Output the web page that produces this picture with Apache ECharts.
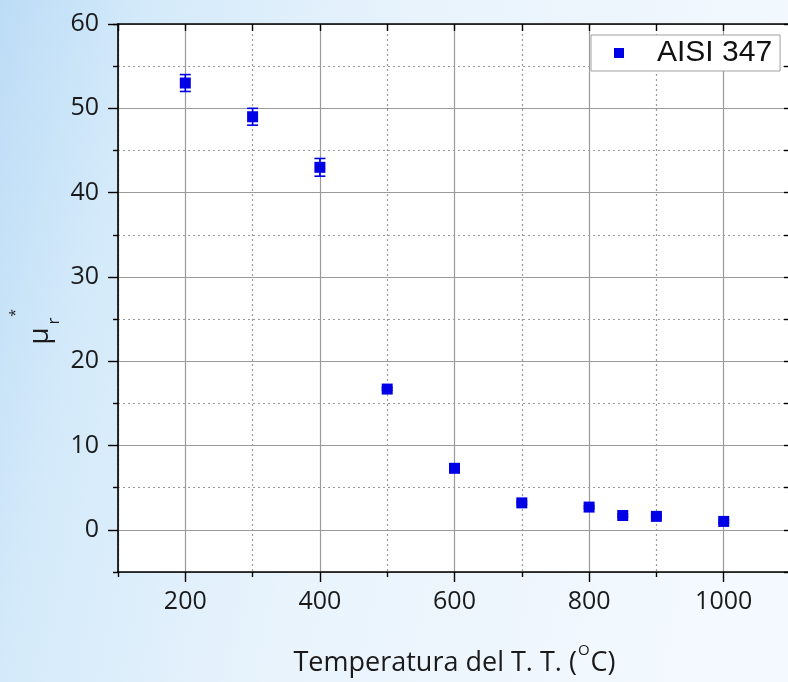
<!DOCTYPE html>
<html>
<head>
<meta charset="utf-8">
<script src="https://cdn.jsdelivr.net/npm/echarts@6/dist/echarts.min.js"></script>
<style>html,body{margin:0;padding:0;}#c{width:788px;height:682px;}</style>
</head>
<body>
<div id="c"></div>
<script>
// ---- data ----
var temps = [200, 300, 400, 500, 600, 700, 800, 850, 900, 1000];
var mu = [53.0, 49.0, 43.0, 16.7, 7.3, 3.2, 2.7, 1.7, 1.6, 1.0];
var muErr = [1.0, 1.0, 1.05, 0.15, 0.15, 0.15, 0.15, 0.15, 0.15, 0.15];
var seriesName = 'AISI 347';
var xTitle = 'Temperatura del T. T. (';
var xTitleSup = 'O';
var xTitleEnd = 'C)';

var pts = temps.map(function (t, i) { return [t, mu[i]]; });
var errs = temps.map(function (t, i) { return [t, mu[i] - muErr[i], mu[i] + muErr[i]]; });

var FONT = '"Open Sans", sans-serif';
var BLUE = '#0000e6';
var GRIDC = '#9a9a9a';

var chart = echarts.init(document.getElementById('c'), null, {renderer: 'canvas'});
chart.setOption({
  animation: false,
  backgroundColor: {
    type: 'linear', x: 0, y: 0, x2: 1, y2: 0.25,
    colorStops: [
      {offset: 0, color: '#bcdcf6'},
      {offset: 0.18, color: '#d4eafa'},
      {offset: 0.5, color: '#e8f3fc'},
      {offset: 1, color: '#f3f9fe'}
    ]
  },
  grid: {
    left: 118, top: 24, width: 673, height: 548,
    show: true, backgroundColor: '#ffffff', borderWidth: 0,
    containLabel: false, outerBoundsMode: 'none'
  },
  legend: {
    data: [{name: seriesName, icon: 'rect'}],
    left: 591, top: 35,
    padding: [2, 8, 2, 23],
    itemWidth: 10, itemHeight: 10,
    backgroundColor: '#ffffff', borderColor: '#a0a0a0', borderWidth: 1, borderRadius: 0,
    textStyle: {fontFamily: '"Liberation Sans", Arial, sans-serif', fontSize: 30, lineHeight: 32, color: '#111', padding: [0, 0, 0, 28]}
  },
  xAxis: [
    { // main: labels, major ticks, solid grid
      type: 'value', position: 'bottom', min: 100, max: 1100, splitNumber: 5,
      axisLine: {show: true, onZero: false, lineStyle: {color: '#000', width: 1.6}},
      axisTick: {show: true, inside: false, length: 10, lineStyle: {color: '#000', width: 1.4}},
      axisLabel: {show: true, margin: 17, fontFamily: FONT, fontSize: 25, color: '#1a1a1a', showMinLabel: false, showMaxLabel: false,
                  formatter: function (v) { return String(v); }},
      splitLine: {show: true, lineStyle: {color: GRIDC, width: 1.2, type: 'solid'}},
      name: '{a|' + xTitle + '}{s|' + xTitleSup + '}{a|' + xTitleEnd + '}',
      nameLocation: 'middle', nameGap: 71,
      nameTextStyle: {
        rich: {
          a: {fontFamily: FONT, fontSize: 27, color: '#1a1a1a', verticalAlign: 'bottom'},
          s: {fontFamily: FONT, fontSize: 15, color: '#1a1a1a', verticalAlign: 'bottom', padding: [0, 1, 19, 1]}
        }
      }
    },
    { // minor: dotted grid at 300,500,...
      type: 'value', position: 'bottom', min: 100, max: 1100, interval: 200,
      axisLine: {show: false, onZero: false},
      axisTick: {show: true, inside: false, length: 5, lineStyle: {color: '#000', width: 1.4}},
      axisLabel: {show: false},
      splitLine: {show: true, lineStyle: {color: GRIDC, width: 1.2, type: [2, 3]}}
    },
    { // top frame
      type: 'value', position: 'top', min: 100, max: 1100, interval: 100,
      axisLine: {show: true, onZero: false, lineStyle: {color: '#000', width: 1.6}},
      axisTick: {show: true, inside: true, length: 7, lineStyle: {color: '#000', width: 1.4}},
      axisLabel: {show: false},
      splitLine: {show: false}
    }
  ],
  yAxis: [
    {
      type: 'value', position: 'left', min: -5, max: 60, splitNumber: 7,
      axisLine: {show: true, onZero: false, lineStyle: {color: '#000', width: 1.6}},
      axisTick: {show: true, inside: false, length: 10, lineStyle: {color: '#000', width: 1.4}},
      axisLabel: {show: true, margin: 19, fontFamily: FONT, fontSize: 25, color: '#1a1a1a', showMinLabel: false},
      splitLine: {show: true, lineStyle: {color: GRIDC, width: 1.2, type: 'solid'}}
    },
    {
      type: 'value', position: 'left', min: -5, max: 60, interval: 10,
      axisLine: {show: false, onZero: false},
      axisTick: {show: true, inside: false, length: 5, lineStyle: {color: '#000', width: 1.4}},
      axisLabel: {show: false},
      splitLine: {show: true, lineStyle: {color: GRIDC, width: 1.2, type: [2, 3]}}
    },
    {
      type: 'value', position: 'right', min: -5, max: 60, interval: 5,
      axisLine: {show: true, onZero: false, lineStyle: {color: '#000', width: 1.6}},
      axisTick: {show: true, inside: true, length: 7, lineStyle: {color: '#000', width: 1.4}},
      axisLabel: {show: false},
      splitLine: {show: false}
    }
  ],
  graphic: [
    {type: 'text', x: 40, y: 336, rotation: Math.PI / 2, z: 10,
     style: {text: 'μ', fontFamily: FONT, fontSize: 28, fill: '#1a1a1a', align: 'center', verticalAlign: 'middle'}},
    {type: 'text', x: 54, y: 321, rotation: Math.PI / 2, z: 10,
     style: {text: 'r', fontFamily: FONT, fontSize: 17, fill: '#1a1a1a', align: 'center', verticalAlign: 'middle'}},
    {type: 'text', x: 16, y: 313, rotation: Math.PI / 2, z: 10,
     style: {text: '*', fontFamily: FONT, fontSize: 14, fill: '#1a1a1a', align: 'center', verticalAlign: 'middle'}}
  ],
  series: [
    {
      type: 'custom', name: 'err', xAxisIndex: 0, yAxisIndex: 0, z: 3,
      data: errs,
      renderItem: function (params, api) {
        var x = api.value(0);
        var lo = api.coord([x, api.value(1)]);
        var hi = api.coord([x, api.value(2)]);
        var w = 5.5;
        var st = {stroke: BLUE, lineWidth: 1.6};
        return {type: 'group', children: [
          {type: 'line', shape: {x1: lo[0], y1: lo[1], x2: hi[0], y2: hi[1]}, style: st},
          {type: 'line', shape: {x1: lo[0] - w, y1: lo[1], x2: lo[0] + w, y2: lo[1]}, style: st},
          {type: 'line', shape: {x1: hi[0] - w, y1: hi[1], x2: hi[0] + w, y2: hi[1]}, style: st}
        ]};
      }
    },
    {
      type: 'scatter', name: seriesName, xAxisIndex: 0, yAxisIndex: 0, z: 4,
      symbol: 'rect', symbolSize: 11,
      itemStyle: {color: BLUE, opacity: 1},
      data: pts
    }
  ]
});
</script>
</body>
</html>
